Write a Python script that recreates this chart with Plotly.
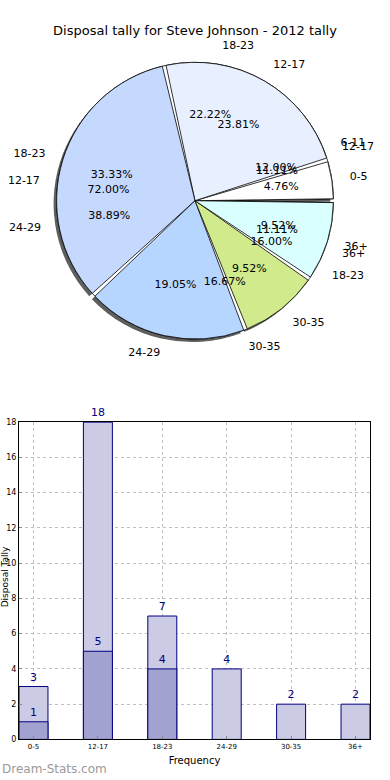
import numpy as np
import plotly.graph_objects as go

title_text = "Disposal tally for Steve Johnson - 2012 tally"

# Three overlaid pies (drawn in this order; the last one is on top)
pie_a_labels = ["6-11", "12-17", "18-23"]
pie_a_values = [3, 18, 4]
pie_c_labels = ["12-17", "18-23", "24-29", "30-35", "36+"]
pie_c_values = [2, 4, 7, 3, 2]
pie_b_labels = ["0-5", "12-17", "18-23", "24-29", "30-35", "36+"]
pie_b_values = [1, 5, 7, 4, 2, 2]
pie_b_colors = ["#ffffff", "#e8f0ff", "#c5d8fe", "#b7d6ff", "#d0ea8c", "#d9ffff"]

# Bar chart
bar_categories = ["0-5", "12-17", "18-23", "24-29", "30-35", "36+"]
bar_totals = [3, 18, 7, 4, 2, 2]
bar_subset = [1, 5, 4, None, None, None]
y_ticks = list(range(0, 19, 2))

W, H = 390, 780
EXPLODE = 0.03
GAP_DEG = 1.6
PIE_R_PX = 140
R_MAX = 1.25


def geometry(values):
    v = np.array(values, dtype=float)
    fr = v / v.sum()
    widths = fr * 360.0
    starts = np.concatenate([[0.0], np.cumsum(widths)[:-1]])
    mids = starts + widths / 2
    return mids, widths, fr


def polar_domain(cx, cy, dx=0, dy=0):
    half = PIE_R_PX * R_MAX
    return dict(
        x=[(cx + dx - half) / W, (cx + dx + half) / W],
        y=[1 - (cy + dy + half) / H, 1 - (cy + dy - half) / H],
    )


fig = go.Figure()

# shadow of the top pie
mids_b, widths_b, fr_b = geometry(pie_b_values)
fig.add_trace(go.Barpolar(
    theta=mids_b, width=widths_b - GAP_DEG, r=[1.0] * len(pie_b_values), base=0,
    marker=dict(color="rgba(40,40,40,0.75)", line=dict(width=0)),
    subplot="polar", hoverinfo="skip", showlegend=False,
))

# underlying pies
for labels, values in [(pie_a_labels, pie_a_values), (pie_c_labels, pie_c_values)]:
    mids, widths, fr = geometry(values)
    fig.add_trace(go.Barpolar(
        theta=mids, width=widths - GAP_DEG, r=[1.0] * len(values), base=0,
        marker=dict(color="#ffffff", line=dict(color="black", width=0.6)),
        subplot="polar2", text=labels, hoverinfo="text", showlegend=False,
    ))

# top pie
fig.add_trace(go.Barpolar(
    theta=mids_b, width=widths_b - GAP_DEG, r=[1.0] * len(pie_b_values), base=0,
    marker=dict(color=pie_b_colors, line=dict(color="black", width=0.8)),
    subplot="polar2", text=pie_b_labels, hoverinfo="text", showlegend=False,
))

# labels for all pies
for labels, values in [(pie_a_labels, pie_a_values), (pie_c_labels, pie_c_values),
                       (pie_b_labels, pie_b_values)]:
    mids, widths, fr = geometry(values)
    pos = ["middle right" if np.cos(np.radians(m)) > 0 else "middle left" for m in mids]
    fig.add_trace(go.Scatterpolar(
        theta=mids, r=[1.1 + EXPLODE] * len(values), mode="text", text=labels,
        textposition=pos, textfont=dict(family="DejaVu Sans", size=11, color="black"),
        subplot="polar2", hoverinfo="skip", showlegend=False, cliponaxis=False,
    ))
    fig.add_trace(go.Scatterpolar(
        theta=mids, r=[0.6 + EXPLODE] * len(values), mode="text",
        text=[f"{f * 100:.2f}%" for f in fr], textposition="middle center",
        textfont=dict(family="DejaVu Sans", size=11, color="black"),
        subplot="polar2", hoverinfo="skip", showlegend=False, cliponaxis=False,
    ))

# bars
fig.add_trace(go.Bar(
    x=bar_categories, y=bar_totals, width=0.45,
    marker=dict(color="#cbcbe5", line=dict(color="#000080", width=1)),
    text=[str(v) for v in bar_totals], textposition="outside", cliponaxis=False,
    textfont=dict(family="DejaVu Sans", size=11, color="#000080"),
    showlegend=False, xaxis="x", yaxis="y",
))
fig.add_trace(go.Bar(
    x=bar_categories, y=bar_subset, width=0.45,
    marker=dict(color="#a2a2d0", line=dict(color="#000080", width=1)),
    text=["" if v is None else str(v) for v in bar_subset], textposition="outside",
    cliponaxis=False, textfont=dict(family="DejaVu Sans", size=11, color="#000080"),
    showlegend=False, xaxis="x", yaxis="y",
))

CX, CY = 195, 199
polar_common = dict(
    bgcolor="rgba(0,0,0,0)",
    angularaxis=dict(rotation=0, direction="counterclockwise", visible=False,
                     showgrid=False, showline=False, showticklabels=False, ticks=""),
    radialaxis=dict(range=[0, R_MAX], visible=False, showgrid=False, showline=False),
)

fig.update_layout(
    width=W, height=H, autosize=False,
    margin=dict(l=0, r=0, t=0, b=0),
    paper_bgcolor="white", plot_bgcolor="white",
    font=dict(family="DejaVu Sans", color="black"),
    title=dict(text=title_text, x=0.5, xanchor="center", y=1 - 30 / H, yanchor="middle",
               font=dict(family="DejaVu Sans", size=13, color="black")),
    polar=dict(domain=polar_domain(CX, CY, -3, 3), **polar_common),
    polar2=dict(domain=polar_domain(CX, CY), **polar_common),
    barmode="overlay",
    xaxis=dict(domain=[19 / W, 370 / W], range=[-0.225, 5.225], type="category",
               showgrid=True, gridcolor="#c0c0c0", griddash="dot", gridwidth=1,
               showline=True, linecolor="black", linewidth=1, mirror=True,
               ticks="inside", ticklen=3, tickcolor="#888",
               tickfont=dict(family="DejaVu Sans", size=7, color="black"),
               title=dict(text="Frequency", standoff=7,
                          font=dict(family="DejaVu Sans", size=10, color="black")),
               fixedrange=True),
    yaxis=dict(domain=[1 - 744 / H, 1 - 423 / H], range=[0, 18], tickvals=y_ticks,
               showgrid=True, gridcolor="#c0c0c0", griddash="dot", gridwidth=1,
               showline=True, linecolor="black", linewidth=1, mirror=True,
               ticks="inside", ticklen=3, tickcolor="#888", zeroline=False,
               tickfont=dict(family="DejaVu Sans", size=8, color="black"),
               fixedrange=True),
    annotations=[
        dict(text="Dream-Stats.com", x=0, xanchor="left", y=1 - 774 / H, yanchor="middle",
             xref="paper", yref="paper", showarrow=False,
             font=dict(family="DejaVu Sans", size=12, color="#9a9a9a")),
        dict(text="Disposal Tally", x=5 / W, xanchor="center", y=1 - 580 / H,
             yanchor="middle", xref="paper", yref="paper", showarrow=False, textangle=-90,
             font=dict(family="DejaVu Sans", size=9, color="black")),
    ],
)

fig.write_html(
    "out.html",
    config={"displayModeBar": False, "responsive": False},
    post_script="document.body.style.margin='0';document.body.style.overflow='hidden';",
)
